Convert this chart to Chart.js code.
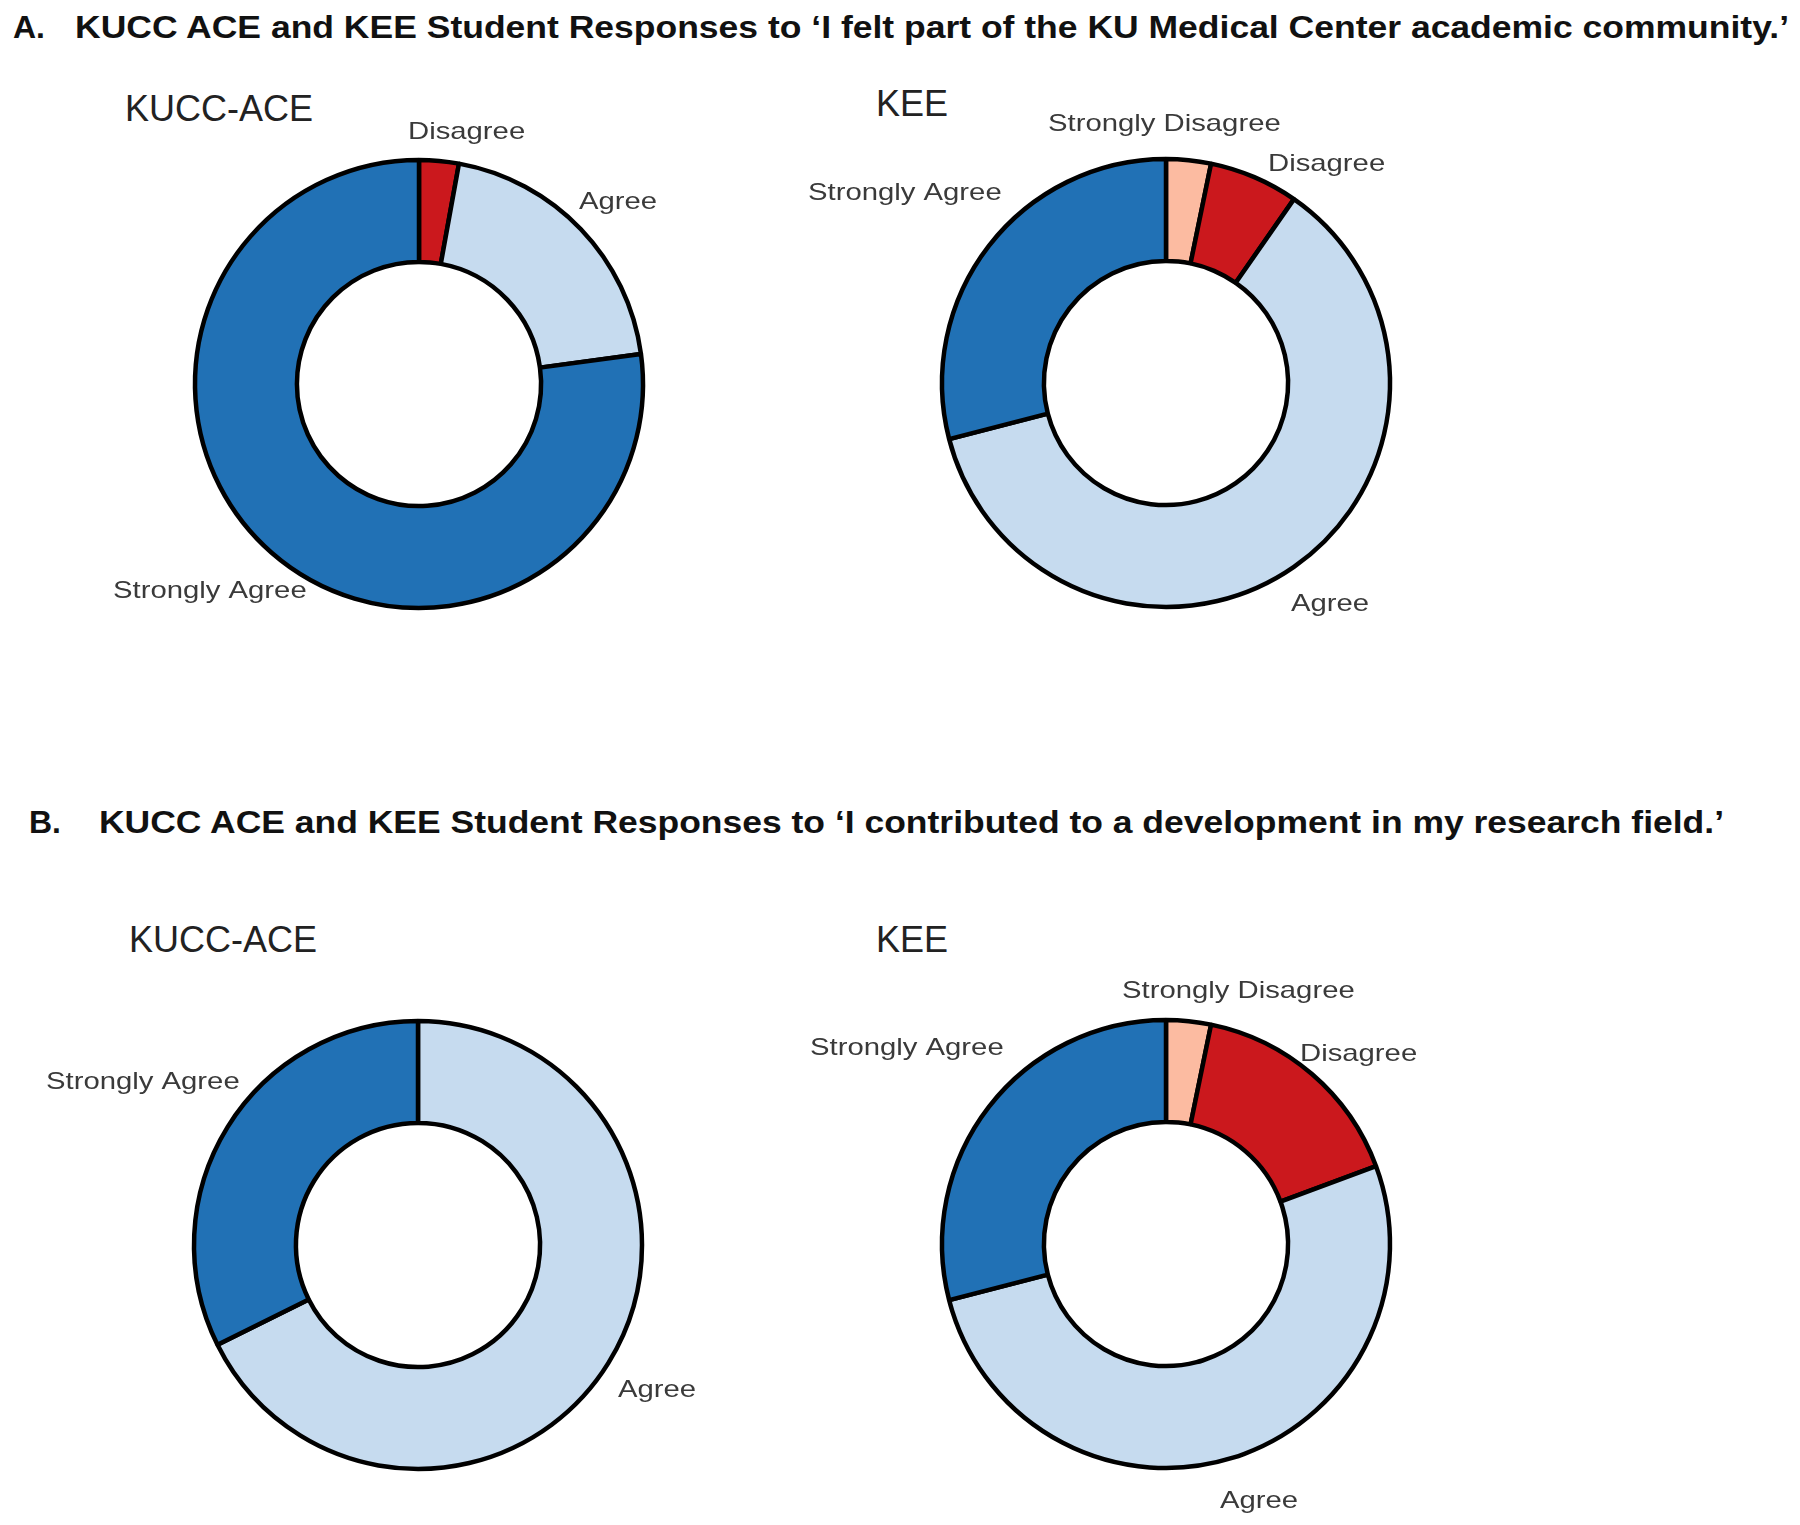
<!DOCTYPE html>
<html>
<head>
<meta charset="utf-8">
<script src="https://cdn.jsdelivr.net/npm/chart.js@4/dist/chart.umd.min.js"></script>
<style>
  html, body { margin: 0; padding: 0; background: #ffffff; }
  body { width: 1800px; height: 1525px; position: relative; overflow: hidden; font-family: "Liberation Sans", Arial, sans-serif; }
  .t { position: absolute; white-space: pre; line-height: 1; transform-origin: 0 0; }
  .title { font-weight: bold; font-size: 32px; color: #111; }
  .sub { font-size: 36px; color: #222; }
  canvas { position: absolute; }
</style>
</head>
<body>
<div class="t title" style="left:13px; top:11px;">A.</div>
<div class="t title fit" data-w="1714" style="left:75px; top:11px;">KUCC ACE and KEE Student Responses to ‘I felt part of the KU Medical Center academic community.’</div>
<div class="t title" style="left:29px; top:806px;">B.</div>
<div class="t title fit" data-w="1625" style="left:99px; top:806px;">KUCC ACE and KEE Student Responses to ‘I contributed to a development in my research field.’</div>

<div class="t sub" style="left:125px; top:91px;">KUCC-ACE</div>
<div class="t sub" style="left:876px; top:86px;">KEE</div>
<div class="t sub" style="left:129px; top:922px;">KUCC-ACE</div>
<div class="t sub" style="left:876px; top:922px;">KEE</div>

<canvas id="cA1" width="780" height="620" style="left:29px; top:74px;"></canvas>
<canvas id="cA2" width="780" height="620" style="left:776px; top:73px;"></canvas>
<canvas id="cB1" width="780" height="620" style="left:28px; top:935px;"></canvas>
<canvas id="cB2" width="780" height="620" style="left:776px; top:934px;"></canvas>

<script>
// ---- data ----
const categories = ["Strongly Disagree", "Disagree", "Agree", "Strongly Agree"];
const colors = ["#fcbba1", "#cb181d", "#c6dbef", "#2171b5"];
// counts of responses per category (SD, D, A, SA)
const feltPartKUCC = [0, 1, 7, 27];
const feltPartKEE = [1, 2, 19, 9];
const contributedKUCC = [0, 0, 23, 11];
const contributedKEE = [1, 5, 16, 9];

// label placement relative to ring center: [dx of left edge, dy of baseline]
const labelPlacement = {
  cA1: { "Disagree": [-11, -245], "Agree": [160, -175], "Strongly Agree": [-306, 214] },
  cA2: { "Strongly Disagree": [-118, -252], "Disagree": [102, -212], "Agree": [125, 228], "Strongly Agree": [-358, -183] },
  cB1: { "Strongly Agree": [-372, -156], "Agree": [200, 152] },
  cB2: { "Strongly Disagree": [-44, -246], "Disagree": [134, -183], "Agree": [54, 264], "Strongly Agree": [-356, -189] }
};

// fit titles to measured widths
document.querySelectorAll('.fit').forEach(el => {
  const w = el.getBoundingClientRect().width;
  const target = parseFloat(el.dataset.w);
  el.style.transform = 'scaleX(' + (target / w) + ')';
});

const labelPlugin = {
  id: 'sliceLabels',
  afterDatasetsDraw(chart) {
    const place = labelPlacement[chart.canvas.id];
    const meta = chart.getDatasetMeta(0);
    const ctx = chart.ctx;
    meta.data.forEach((arc, i) => {
      const lab = chart.data.labels[i];
      const p = place[lab];
      if (!p) return;
      ctx.save();
      ctx.translate(arc.x + p[0], arc.y + p[1]);
      ctx.scale(1.22, 1);
      ctx.font = '24px "Liberation Sans", Arial, sans-serif';
      ctx.fillStyle = '#3a3a3a';
      ctx.textAlign = 'left';
      ctx.textBaseline = 'alphabetic';
      ctx.fillText(lab, 0, 0);
      ctx.restore();
    });
  }
};

function makeDonut(id, values) {
  const labels = [], data = [], bg = [];
  values.forEach((v, i) => {
    if (v > 0) { labels.push(categories[i]); data.push(v); bg.push(colors[i]); }
  });
  new Chart(document.getElementById(id), {
    type: 'doughnut',
    data: {
      labels: labels,
      datasets: [{ data: data, backgroundColor: bg, borderColor: '#000000', borderWidth: 4.5, borderAlign: 'center' }]
    },
    options: {
      responsive: false,
      animation: false,
      events: [],
      devicePixelRatio: 1,
      radius: 224,
      cutout: '54.5%',
      rotation: 0,
      layout: { padding: 0 },
      plugins: { legend: { display: false }, tooltip: { enabled: false }, title: { display: false } }
    },
    plugins: [labelPlugin]
  });
}

makeDonut('cA1', feltPartKUCC);
makeDonut('cA2', feltPartKEE);
makeDonut('cB1', contributedKUCC);
makeDonut('cB2', contributedKEE);
</script>
</body>
</html>
